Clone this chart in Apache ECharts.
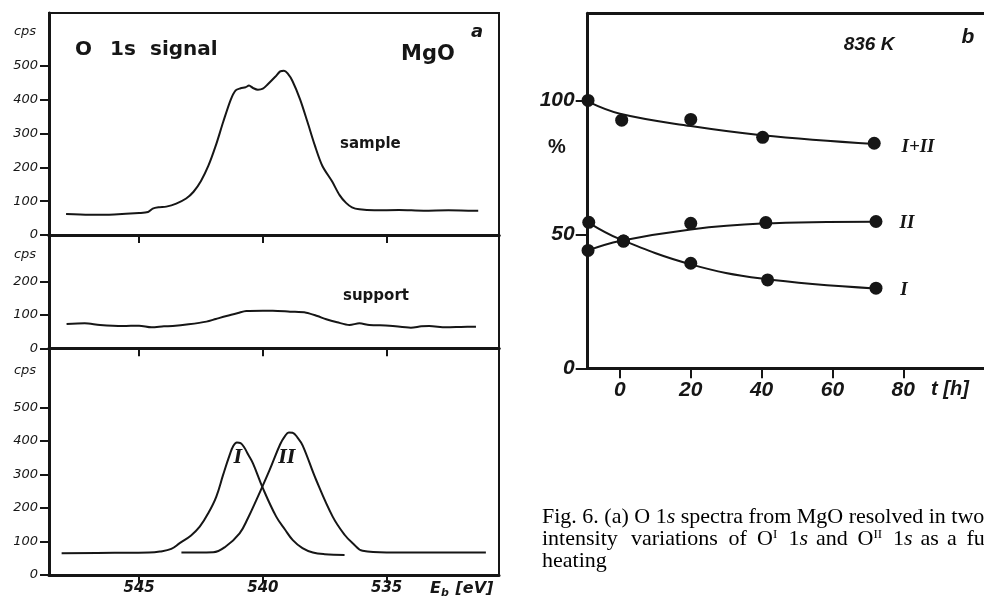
<!DOCTYPE html>
<html><head><meta charset="utf-8">
<script src="https://cdn.jsdelivr.net/npm/echarts@6/dist/echarts.min.js"></script>
<style>html,body{margin:0;padding:0;background:#fff}#c{width:984px;height:606px}</style>
</head><body><div id="c"></div>
<script>
// ---- Panel a: O 1s spectra (binding energy eV, counts per second) ----
const sampleE   = [547.95,547.0,546.0,545.0,544.64,544.45,544.2,543.9,543.5,543.1,542.8,542.5,542.2,541.9,541.6,541.3,541.1,540.9,540.7,540.56,540.4,540.2,540.0,539.8,539.5,539.3,539.15,539.0,538.8,538.5,538.2,537.9,537.6,537.2,536.9,536.64,536.4,536.1,535.5,534.5,533.5,532.5,531.5,531.3];
const sampleCps = [62,60,61,65,68,78,82,84,93,108,128,160,205,265,335,400,428,434,437,442,435,430,433,446,468,484,486,478,455,402,335,265,205,158,118,95,82,76,73,74,72,73,72,72];
const supportE   = [547.93,547.2,546.58,545.66,545.0,544.5,544.0,543.64,543.0,542.28,541.9,541.47,541.0,540.67,540.0,539.6,538.9,538.25,537.8,537.44,537.0,536.5,536.1,535.7,534.89,534.02,533.6,533.28,532.6,532.0,531.39];
const supportCps = [73,75,70,67,68,63,66,67,72,80,88,97,106,112,113,113,110,107,97,87,78,70,75,70,68,62,66,67,63,64,65];
const fitIE   = [548.13,546.0,544.6,544.16,543.7,543.36,542.9,542.55,542.2,541.88,541.6,541.34,541.2,541.05,540.9,540.75,540.6,540.4,540.0,539.46,539.1,538.79,538.4,537.98,537.5,536.7];
const fitICps = [65,66,67,70,78,95,118,144,185,234,300,358,384,395,393,380,360,333,259,174,135,104,80,67,62,60];
const fitIIE   = [543.29,542.01,541.5,540.94,540.6,540.26,539.73,539.3,539.1,538.95,538.8,538.6,538.39,537.85,537.18,536.7,536.37,535.97,535.0,533.0,530.99];
const fitIICps = [67,68,85,124,170,224,313,390,415,425,424,410,386,284,174,120,95,72,67,67,67];
const energyTicks = [545, 540, 535];
const cpsTicksTall = [0, 100, 200, 300, 400, 500];
const cpsTicksShort = [0, 100, 200];

// ---- Panel b: intensity (%) vs heating time t [h] at 836 K ----
const sumT = [-9, 0.5, 20, 40.3, 71.8];
const sumPct = [100, 92.6, 92.9, 86.2, 84];
const IIt = [-9, 1, 20, 41.2, 72.3];
const IIpct = [44, 47.5, 54.1, 54.4, 54.8];
const It = [-8.8, 1, 20, 41.7, 72.3];
const Ipct = [54.5, 47.5, 39.2, 33, 29.9];
const sumCurveT = [-9, 0, 20, 40, 72];
const sumCurvePct = [99.5, 95, 90.4, 87, 83.7];
const IICurveT = [-9, 0, 20, 40, 72];
const IICurvePct = [44, 47.5, 51.8, 54, 54.7];
const ICurveT = [-9, 0, 20, 40, 72];
const ICurvePct = [54.5, 48.2, 38.8, 33.5, 29.8];
const tTicks = [0, 20, 40, 60, 80];
const pctTicks = [0, 50, 100];

const INK = '#161616';
const pair = (xs, ys) => xs.map((x, i) => [x, ys[i]]);
const labA = {fontFamily: 'DejaVu Sans', fontStyle: 'italic', fontSize: 13, color: INK};
const labB = {fontFamily: 'Liberation Sans', fontStyle: 'italic', fontWeight: 'bold', fontSize: 21, color: INK};

function xA(gi, position, tickShow, inside, labelShow) {
  return {type: 'value', gridIndex: gi, position, min: 530.46, max: 548.64, inverse: true,
    axisLine: {show: true, onZero: false, lineStyle: {color: INK, width: 3}},
    axisTick: {show: tickShow, inside, length: 8, lineStyle: {color: INK, width: 2}, customValues: energyTicks},
    axisLabel: {show: labelShow, fontFamily: 'DejaVu Sans', fontStyle: 'italic', fontWeight: 'bold', fontSize: 15, color: INK, margin: 6, customValues: energyTicks},
    splitLine: {show: false}};
}
function yA(gi, max, ticks) {
  return {type: 'value', gridIndex: gi, min: 0, max,
    axisLine: {show: true, onZero: false, lineStyle: {color: INK, width: 3}},
    axisTick: {show: true, length: 9, lineStyle: {color: INK, width: 2}, customValues: ticks},
    axisLabel: Object.assign({margin: 11, customValues: ticks}, labA),
    splitLine: {show: false}};
}
function curve(xi, yi, data, smooth) {
  return {type: 'line', xAxisIndex: xi, yAxisIndex: yi, data, showSymbol: false, smooth: smooth,
    lineStyle: {color: INK, width: 2}, silent: true, z: 3};
}
function dots(xi, yi, data) {
  return {type: 'scatter', xAxisIndex: xi, yAxisIndex: yi, data, symbol: 'circle', symbolSize: 13,
    itemStyle: {color: INK, opacity: 1}, z: 4};
}
function txt(text, x, y, font, align, extra) {
  return Object.assign({type: 'text', x, y, z: 100, style: Object.assign({text, font, fill: INK, align: align || 'center', verticalAlign: 'middle'}, extra || {})});
}
const cap = {fontFamily: 'Liberation Serif', fontSize: 22, color: INK};
const capI = {fontFamily: 'Liberation Serif', fontSize: 22, fontStyle: 'italic', color: INK};
const capSup = {fontFamily: 'Liberation Serif', fontSize: 13, color: INK, verticalAlign: 'top', padding: [0, 0, 9, 0]};
const capRich = {n: cap, i: capI, u: capSup};
function capWord(text, x, y) {
  return {type: 'text', x, y, z: 100, style: {text, align: 'left', verticalAlign: 'middle', rich: capRich}};
}

const option = {
  animation: false,
  backgroundColor: '#fff',
  grid: [
    {left: 49, right: 485, top: 13, height: 222, show: true, borderColor: INK, borderWidth: 2, backgroundColor: 'transparent'},
    {left: 49, right: 485, top: 235, height: 113.3, show: true, borderColor: INK, borderWidth: 2, backgroundColor: 'transparent'},
    {left: 49, right: 485, top: 348.3, height: 226.7, show: true, borderColor: INK, borderWidth: 2, backgroundColor: 'transparent'},
    {left: 587.7, right: 0, top: 13.3, height: 355}
  ],
  xAxis: [
    xA(0, 'bottom', false, false, false),
    xA(1, 'top', true, true, false),
    xA(1, 'bottom', false, false, false),
    xA(2, 'top', true, true, false),
    xA(2, 'bottom', true, false, true),
    {type: 'value', gridIndex: 3, position: 'bottom', min: -9.1, max: 102.8,
      axisLine: {show: true, onZero: false, lineStyle: {color: INK, width: 3}},
      axisTick: {show: true, length: 10, lineStyle: {color: INK, width: 2}, customValues: tTicks},
      axisLabel: Object.assign({margin: 11, customValues: tTicks}, labB),
      splitLine: {show: false}},
    {type: 'value', gridIndex: 3, position: 'top', min: -9.1, max: 102.8,
      axisLine: {show: true, onZero: false, lineStyle: {color: INK, width: 3}},
      axisTick: {show: false}, axisLabel: {show: false}, splitLine: {show: false}}
  ],
  yAxis: [
    yA(0, 656.8, cpsTicksTall),
    yA(1, 340, cpsTicksShort),
    yA(2, 676, cpsTicksTall),
    {type: 'value', gridIndex: 3, min: 0, max: 132.5,
      axisLine: {show: true, onZero: false, lineStyle: {color: INK, width: 3}},
      axisTick: {show: true, length: 12, lineStyle: {color: INK, width: 2}, customValues: pctTicks},
      axisLabel: Object.assign({margin: 13, customValues: pctTicks}, labB),
      splitLine: {show: false}}
  ],
  series: [
    curve(0, 0, pair(sampleE, sampleCps), 0.3),
    curve(1, 1, pair(supportE, supportCps), 0.3),
    curve(4, 2, pair(fitIE, fitICps), 0.4),
    curve(4, 2, pair(fitIIE, fitIICps), 0.4),
    curve(5, 3, pair(sumCurveT, sumCurvePct), 0.4),
    curve(5, 3, pair(IICurveT, IICurvePct), 0.4),
    curve(5, 3, pair(ICurveT, ICurvePct), 0.4),
    dots(5, 3, pair(sumT, sumPct)),
    dots(5, 3, pair(IIt, IIpct)),
    dots(5, 3, pair(It, Ipct))
  ],
  graphic: [
    txt('cps', 25, 32, 'italic 13px "DejaVu Sans"'),
    txt('cps', 25, 255, 'italic 13px "DejaVu Sans"'),
    txt('cps', 25, 371, 'italic 13px "DejaVu Sans"'),
    txt('O', 75, 50, 'bold 20px "DejaVu Sans"', 'left'),
    txt('1s', 110, 50, 'bold 20px "DejaVu Sans"', 'left'),
    txt('signal', 150, 50, 'bold 20px "DejaVu Sans"', 'left'),
    txt('MgO', 428, 55, 'bold 21px "DejaVu Sans"'),
    txt('a', 477, 32, 'italic bold 18px "DejaVu Sans"'),
    txt('sample', 340, 144, 'bold 15px "DejaVu Sans"', 'left'),
    txt('support', 343, 296, 'bold 15px "DejaVu Sans"', 'left'),
    txt('I', 238, 458, 'italic bold 18px "DejaVu Serif"'),
    txt('II', 287, 458, 'italic bold 18px "DejaVu Serif"'),
    {type: 'text', x: 430, y: 589, z: 100, style: {text: '{e|E}{s|b}  {e|[eV]}', align: 'left', verticalAlign: 'middle',
      rich: {e: {font: 'italic bold 16px "DejaVu Sans"', fill: INK, color: INK},
             s: {font: 'italic bold 11px "DejaVu Sans"', fill: INK, color: INK, padding: [9, 0, 0, 0]}}}},
    txt('836 K', 869, 45, 'italic bold 19px "Liberation Sans"'),
    txt('b', 968, 37, 'italic bold 21px "Liberation Sans"'),
    txt('%', 557, 147, 'bold 20px "Liberation Sans"'),
    txt('t [h]', 950, 389, 'italic bold 20px "Liberation Sans"'),
    txt('I+II', 918, 147, 'italic bold 19px "Liberation Serif"'),
    txt('II', 907, 223, 'italic bold 19px "Liberation Serif"'),
    txt('I', 904, 290, 'italic bold 19px "Liberation Serif"'),
    capWord('{n|Fig. 6. (a) O 1}{i|s}{n| spectra from MgO resolved in two}', 542, 517),
    capWord('{n|intensity}', 542, 539),
    capWord('{n|variations}', 631, 539),
    capWord('{n|of}', 728.5, 539),
    capWord('{n|O}{u|I}', 757, 539),
    capWord('{n|1}{i|s}', 788.5, 539),
    capWord('{n|and}', 816, 539),
    capWord('{n|O}{u|II}', 857.5, 539),
    capWord('{n|1}{i|s}', 893, 539),
    capWord('{n|as}', 920.5, 539),
    capWord('{n|a}', 947, 539),
    capWord('{n|function}', 966.5, 539),
    capWord('{n|heating}', 542, 561)
  ]
};
const chart = echarts.init(document.getElementById('c'), null, {renderer: 'canvas'});
chart.setOption(option);
</script></body></html>
